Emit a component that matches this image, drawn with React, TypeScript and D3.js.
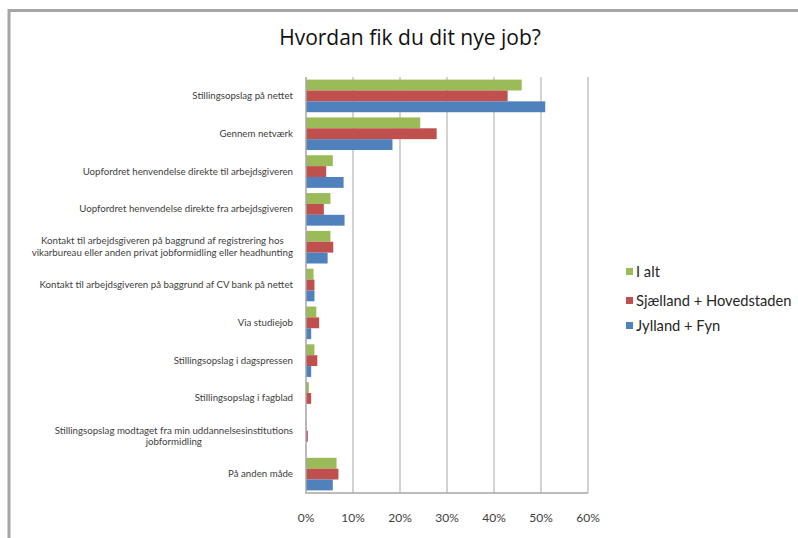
import React, { useEffect, useRef } from 'react';
import * as d3 from 'd3';

const categories = [
  'Stillingsopslag på nettet',
  'Gennem netværk',
  'Uopfordret henvendelse direkte til arbejdsgiveren',
  'Uopfordret henvendelse direkte fra arbejdsgiveren',
  'Kontakt til arbejdsgiveren på baggrund af registrering hos\nvikarbureau eller anden privat jobformidling eller headhunting',
  'Kontakt til arbejdsgiveren på baggrund af CV bank på nettet',
  'Via studiejob',
  'Stillingsopslag i dagspressen',
  'Stillingsopslag i fagblad',
  'Stillingsopslag modtaget fra min uddannelsesinstitutions\njobformidling',
  'På anden måde',
];

const seriesNames = ['I alt', 'Sjælland + Hovedstaden', 'Jylland + Fyn'];
const seriesColors = ['#9bbb59', '#c0504d', '#4f81bd'];

// percentages
const ialt = [45.9, 24.3, 5.7, 5.2, 5.2, 1.6, 2.2, 1.8, 0.6, 0.1, 6.5];
const sjaelland = [42.9, 27.8, 4.3, 3.8, 5.8, 1.8, 2.8, 2.4, 1.1, 0.4, 6.9];
const jylland = [50.9, 18.4, 8.0, 8.2, 4.6, 1.8, 1.1, 1.1, 0, 0, 5.7];

const ticks = [0, 10, 20, 30, 40, 50, 60];

const W = 798;
const H = 538;

const App = () => {
  const ref = useRef<SVGSVGElement>(null);

  useEffect(() => {
    const svg = d3.select(ref.current);
    svg.selectAll('*').remove();

    const values = [ialt, sjaelland, jylland];
    const font = 'Lato, "Open Sans", sans-serif';

    // outer frame (only top and left edge visible)
    svg.append('path')
      .attr('d', `M9,${H} V10.5 H${W}`)
      .attr('fill', 'none')
      .attr('stroke', '#a6a6a6')
      .attr('stroke-width', 3);

    svg.append('text')
      .attr('x', 410)
      .attr('y', 45)
      .attr('text-anchor', 'middle')
      .attr('font-family', '"Open Sans", Lato, sans-serif')
      .attr('font-size', 21)
      .attr('fill', '#111')
      .text('Hvordan fik du dit nye job?');

    const x = d3.scaleLinear().domain([0, 60]).range([306, 588]);
    const y = d3.scaleBand<string>().domain(categories).range([77, 493]);
    const inner = d3.scaleBand<number>()
      .domain([0, 1, 2])
      .range([0, y.bandwidth()])
      .paddingInner(0)
      .paddingOuter(0.24);

    // gridlines
    svg.append('g')
      .selectAll('line')
      .data(ticks.slice(1))
      .join('line')
      .attr('x1', (d) => x(d))
      .attr('x2', (d) => x(d))
      .attr('y1', 77)
      .attr('y2', 493)
      .attr('stroke', '#c4c4c4')
      .attr('stroke-width', 1.5);

    // bars
    values.forEach((vals, s) => {
      svg.append('g')
        .selectAll('rect')
        .data(vals)
        .join('rect')
        .attr('x', x(0))
        .attr('y', (d, i) => (y(categories[i]) as number) + (inner(s) as number))
        .attr('width', (d) => x(d) - x(0))
        .attr('height', inner.bandwidth())
        .attr('fill', seriesColors[s]);
    });

    // axes lines
    svg.append('path')
      .attr('d', `M${x(0)},77 V493 H${x(60)}`)
      .attr('fill', 'none')
      .attr('stroke', '#a6a6a6')
      .attr('stroke-width', 1.5);

    // tick labels
    svg.append('g')
      .selectAll('text')
      .data(ticks)
      .join('text')
      .attr('x', (d) => x(d))
      .attr('y', 522)
      .attr('text-anchor', 'middle')
      .attr('font-family', font)
      .attr('font-size', 12)
      .attr('fill', '#404040')
      .text((d) => `${d}%`);

    // category labels: block right-aligned, lines centered
    const labelRight = 293;
    categories.forEach((c) => {
      const lines = c.split('\n');
      const g = svg.append('text')
        .attr('font-family', font)
        .attr('font-size', 9.7)
        .attr('fill', '#404040')
        .attr('text-anchor', 'middle');
      const cy = (y(c) as number) + y.bandwidth() / 2;
      const lh = 11.5;
      const tspans = g.selectAll('tspan')
        .data(lines)
        .join('tspan')
        .attr('y', (d, i) => cy + (i - (lines.length - 1) / 2) * lh + 3)
        .text((d) => d);
      let maxW = 0;
      tspans.each(function () {
        maxW = Math.max(maxW, (this as SVGTSpanElement).getComputedTextLength());
      });
      tspans.attr('x', labelRight - maxW / 2);
    });

    // legend
    const legend = svg.append('g')
      .selectAll('g')
      .data(seriesNames)
      .join('g')
      .attr('transform', (d, i) => `translate(626,${[272, 301, 326][i]})`);
    legend.append('rect')
      .attr('x', 0)
      .attr('y', -4)
      .attr('width', 7)
      .attr('height', 7)
      .attr('fill', (d, i) => seriesColors[i]);
    legend.append('text')
      .attr('x', 10)
      .attr('y', 5)
      .attr('font-family', font)
      .attr('font-size', 14.7)
      .attr('fill', '#262626')
      .text((d) => d);
  }, []);

  return (
    <svg
      ref={ref}
      width={W}
      height={H}
      style={{ position: 'absolute', left: 0, top: 0, background: '#fff' }}
    />
  );
};

export default App;
